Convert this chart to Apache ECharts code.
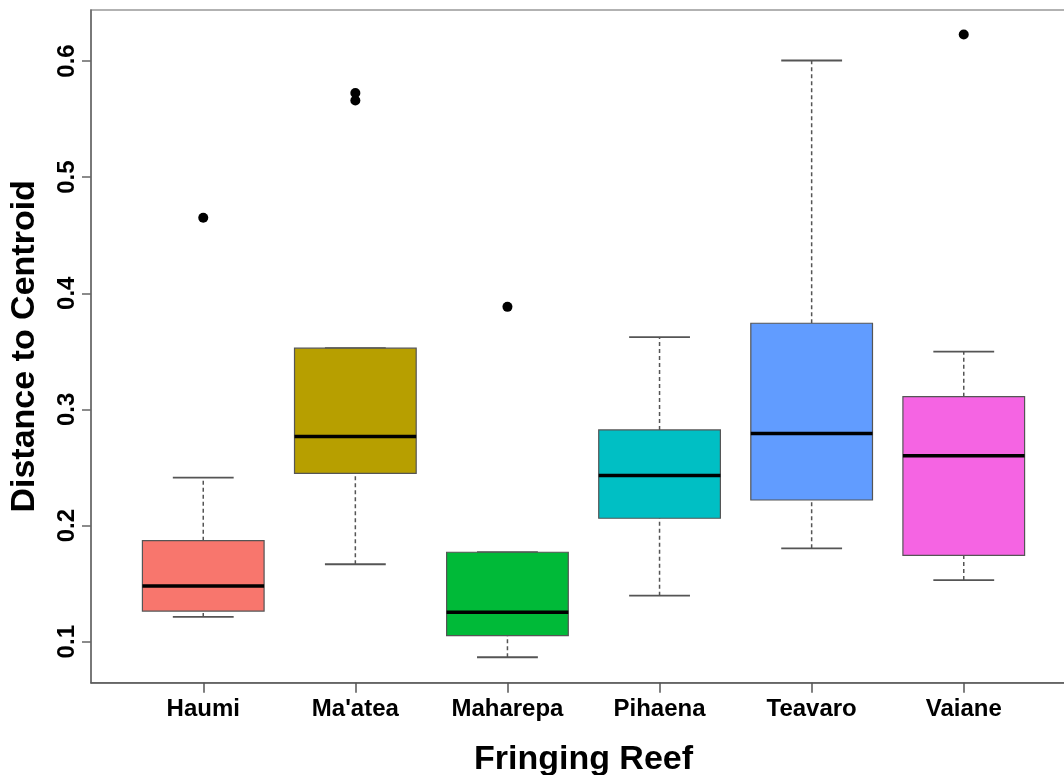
<!DOCTYPE html>
<html>
<head>
<meta charset="utf-8">
<script src="https://cdn.jsdelivr.net/npm/echarts@6/dist/echarts.min.js"></script>
<style>
  html, body { margin: 0; padding: 0; background: #ffffff; }
  #chart { width: 1064px; height: 775px; }
</style>
</head>
<body>
<div id="chart"></div>
<script>
// Dispersion (distance to group centroid) per fringing reef site
const reefs = ["Haumi", "Ma'atea", "Maharepa", "Pihaena", "Teavaro", "Vaiane"];
const whiskerLow = [0.1213, 0.1667, 0.0866, 0.1396, 0.1804, 0.1531];
const quartile1  = [0.1264, 0.2450, 0.1052, 0.2063, 0.2220, 0.1744];
const medians    = [0.1480, 0.2766, 0.1253, 0.2430, 0.2792, 0.2600];
const quartile3  = [0.1870, 0.3527, 0.1770, 0.2823, 0.3742, 0.3110];
const whiskerHigh = [0.2413, 0.3527, 0.1770, 0.3622, 0.6004, 0.3498];
// outliers as [reef index, value]
const outliers = [[0, 0.465], [1, 0.5724], [1, 0.5660], [2, 0.3883], [5, 0.6228]];
const yTicks = [0.1, 0.2, 0.3, 0.4, 0.5, 0.6];
const boxColors = ["#F8766D", "#B79F00", "#00BA38", "#00BFC4", "#619CFF", "#F564E3"];

const yMin = 0.0647, yMax = 0.6439;
const font = "'Liberation Sans', Arial, Helvetica, sans-serif";

const boxRows = reefs.map((r, i) => [i, whiskerLow[i], quartile1[i], medians[i], quartile3[i], whiskerHigh[i]]);

function renderBox(params, api) {
  const i = api.value(0);
  const lo = api.coord([i, api.value(1)]);
  const q1 = api.coord([i, api.value(2)]);
  const md = api.coord([i, api.value(3)]);
  const q3 = api.coord([i, api.value(4)]);
  const hi = api.coord([i, api.value(5)]);
  const band = api.size([1, 0])[0];
  const bw = band * 0.8;
  const cw = bw / 2;
  const cx = lo[0];
  const dash = { stroke: '#555', lineWidth: 1.5, lineDash: [4, 3] };
  const solid = { stroke: '#555', lineWidth: 1.8 };
  return {
    type: 'group',
    children: [
      { type: 'line', shape: { x1: cx, y1: q3[1], x2: cx, y2: hi[1] }, style: dash },
      { type: 'line', shape: { x1: cx, y1: lo[1], x2: cx, y2: q1[1] }, style: dash },
      { type: 'line', shape: { x1: cx - cw / 2, y1: hi[1], x2: cx + cw / 2, y2: hi[1] }, style: solid },
      { type: 'line', shape: { x1: cx - cw / 2, y1: lo[1], x2: cx + cw / 2, y2: lo[1] }, style: solid },
      { type: 'rect', shape: { x: cx - bw / 2, y: q3[1], width: bw, height: q1[1] - q3[1] },
        style: { fill: boxColors[i], stroke: '#555', lineWidth: 1.2 } },
      { type: 'line', shape: { x1: cx - bw / 2, y1: md[1], x2: cx + bw / 2, y2: md[1] },
        style: { stroke: '#000', lineWidth: 3.5 } }
    ]
  };
}

const chart = echarts.init(document.getElementById('chart'), null, { renderer: 'canvas' });
chart.setOption({
  backgroundColor: '#ffffff',
  animation: false,
  grid: [
    { left: 91, top: 10, width: 985, height: 672.7, outerBoundsMode: 'none', containLabel: false,
      show: true, borderColor: '#999', borderWidth: 1.5, backgroundColor: 'transparent' },
    { left: 127.2, top: 10, width: 912.6, height: 672.7, outerBoundsMode: 'none', containLabel: false }
  ],
  xAxis: [
    { type: 'value', gridIndex: 0, min: 0, max: 1, axisLabel: { show: false }, axisTick: { show: false },
      splitLine: { show: false }, axisLine: { show: true, lineStyle: { color: '#555', width: 1.5 } } },
    { type: 'category', gridIndex: 1, data: reefs, boundaryGap: true,
      axisLine: { show: false },
      axisTick: { show: true, alignWithLabel: true, length: 10, lineStyle: { color: '#555', width: 1.5 } },
      axisLabel: { color: '#000', fontSize: 24, fontWeight: 'bold', fontFamily: font, margin: 15 },
      name: 'Fringing Reef', nameLocation: 'middle', nameGap: 60,
      nameTextStyle: { color: '#000', fontSize: 34, fontWeight: 'bold', fontFamily: font } }
  ],
  yAxis: [
    { type: 'value', gridIndex: 0, min: yMin, max: yMax,
      splitLine: { show: false },
      axisLine: { show: true, lineStyle: { color: '#666', width: 1.5 } },
      axisTick: { show: true, length: 9, customValues: yTicks, lineStyle: { color: '#666', width: 1.5 } },
      axisLabel: { customValues: yTicks, rotate: 90, color: '#000', fontSize: 24, fontWeight: 'bold', fontFamily: font,
        margin: 12, formatter: v => v.toFixed(1) },
      name: 'Distance to Centroid', nameLocation: 'middle', nameGap: 49,
      nameTextStyle: { color: '#000', fontSize: 34, fontWeight: 'bold', fontFamily: font } },
    { type: 'value', gridIndex: 1, min: yMin, max: yMax, show: false, splitLine: { show: false } }
  ],
  series: [
    { type: 'custom', xAxisIndex: 1, yAxisIndex: 1, data: boxRows, renderItem: renderBox,
      encode: { x: 0, y: [1, 2, 3, 4, 5] } },
    { type: 'scatter', xAxisIndex: 1, yAxisIndex: 1, data: outliers, symbol: 'circle', symbolSize: 10,
      itemStyle: { color: '#000', opacity: 1 } }
  ]
});
</script>
</body>
</html>
